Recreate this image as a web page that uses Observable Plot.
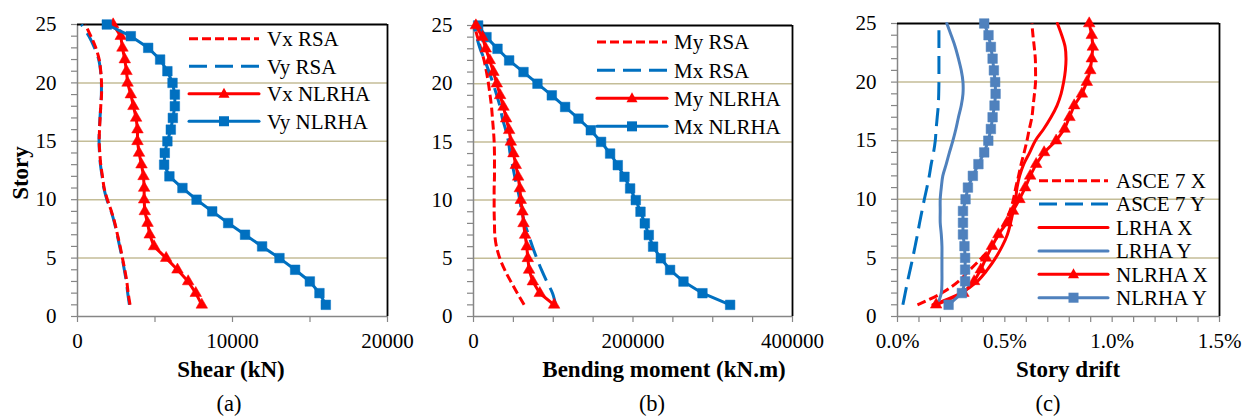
<!DOCTYPE html>
<html>
<head>
<meta charset="utf-8">
<script src="https://cdn.jsdelivr.net/npm/d3@7"></script>
<script src="https://cdn.jsdelivr.net/npm/@observablehq/plot@0.6"></script>
<style>
  html, body { margin: 0; padding: 0; background: #fff; }
  #root { position: relative; width: 1242px; height: 416px; overflow: hidden; font-family: "Liberation Serif", "Times New Roman", serif; color: #000; }
  .panel { position: absolute; top: 0; }
  .panel text { font-family: "Liberation Serif", "Times New Roman", serif !important; font-variant: normal !important; }
  .lbl { position: absolute; transform: translate(-50%, -50%); white-space: nowrap; line-height: 1; font-family: "Liberation Serif", serif; }
  .bold { font-weight: bold; font-size: 23px; }
  .cap { font-size: 22.5px; }
  .legend { position: absolute; font-size: 21px; }
</style>
</head>
<body>
<div id="root"></div>
<script>
// ---------- Data (story 1 .. 25) ----------
const stories = d3.range(1, 26);
const gridStories = [5, 10, 15, 20];
const yTicks = d3.range(0, 26);

// Panel (a): Shear (kN)
const vxRSA   = [3390, 3270, 3180, 3050, 2900, 2750, 2580, 2410, 2190, 1930, 1720, 1610, 1500, 1440, 1400, 1420, 1460, 1500, 1550, 1550, 1500, 1400, 1180, 860, 500];
const vyRSA   = [3350, 3240, 3150, 3020, 2880, 2720, 2560, 2390, 2170, 1900, 1700, 1590, 1480, 1420, 1390, 1410, 1450, 1500, 1540, 1540, 1490, 1370, 1100, 740, 250];
const vxNLRHA = [8020, 7630, 7140, 6450, 5720, 4940, 4660, 4520, 4340, 4300, 4300, 4260, 4130, 3970, 3870, 3870, 3780, 3610, 3440, 3230, 3160, 3050, 2900, 2790, 2300];
const vyNLRHA = [16020, 15610, 14990, 14040, 13030, 11910, 10810, 9720, 8690, 7680, 6770, 5930, 5590, 5630, 5800, 6020, 6150, 6280, 6280, 6130, 5800, 5330, 4560, 3440, 1890];
const shearTicks = [0, 5000, 10000, 15000, 20000];
const shearLabels = [0, 10000, 20000];

// Panel (b): Bending moment (kN.m)
const myRSA   = [63500, 55000, 46800, 39200, 33000, 28800, 26700, 26300, 25900, 25900, 25900, 26300, 26300, 26300, 25900, 25000, 23800, 22600, 20800, 18800, 16300, 13300, 9200, 5000, 1000];
const mxRSA   = [103000, 99100, 91900, 85300, 79400, 74000, 69000, 64300, 60600, 58100, 55200, 51800, 48900, 45900, 43900, 40500, 36300, 33400, 29200, 24600, 19600, 14200, 8300, 4100, 1000];
const myNLRHA = [101100, 83100, 74400, 69700, 68100, 66800, 64700, 62700, 61400, 59300, 58100, 56000, 53000, 50100, 46800, 44700, 40900, 37600, 33400, 29200, 25000, 20400, 15400, 11300, 3000];
const mxNLRHA = [321800, 287100, 263300, 246500, 234900, 225200, 219800, 214800, 209400, 203500, 196400, 189300, 180900, 171300, 160000, 147100, 131600, 114900, 98200, 80200, 62700, 44700, 30100, 16300, 5800];
const momentTicks = [0, 50000, 100000, 150000, 200000, 250000, 300000, 350000, 400000];
const momentLabels = [0, 200000, 400000];

// Panel (c): Story drift (%)
const asceX  = [0.093, 0.206, 0.284, 0.338, 0.392, 0.439, 0.470, 0.501, 0.524, 0.540, 0.551, 0.564, 0.576, 0.590, 0.603, 0.614, 0.626, 0.632, 0.638, 0.643, 0.643, 0.642, 0.637, 0.631, 0.626];
const asceY  = [0.025, 0.036, 0.047, 0.059, 0.071, 0.082, 0.093, 0.103, 0.114, 0.125, 0.137, 0.148, 0.157, 0.168, 0.176, 0.180, 0.185, 0.190, 0.192, 0.193, 0.193, 0.193, 0.193, 0.193, 0.193];
const lrhaX  = [0.165, 0.295, 0.372, 0.419, 0.457, 0.488, 0.512, 0.527, 0.539, 0.550, 0.557, 0.569, 0.588, 0.616, 0.642, 0.681, 0.715, 0.743, 0.762, 0.774, 0.782, 0.785, 0.781, 0.765, 0.745];
const lrhaY  = [0.186, 0.204, 0.207, 0.207, 0.207, 0.207, 0.204, 0.199, 0.199, 0.199, 0.204, 0.211, 0.227, 0.242, 0.258, 0.272, 0.284, 0.297, 0.305, 0.305, 0.297, 0.284, 0.269, 0.250, 0.230];
const nlrhaX = [0.180, 0.307, 0.357, 0.388, 0.413, 0.440, 0.470, 0.510, 0.538, 0.568, 0.595, 0.618, 0.646, 0.683, 0.739, 0.778, 0.801, 0.823, 0.859, 0.882, 0.898, 0.905, 0.910, 0.905, 0.893];
const nlrhaY = [0.238, 0.300, 0.315, 0.315, 0.315, 0.312, 0.305, 0.305, 0.305, 0.317, 0.328, 0.351, 0.377, 0.404, 0.423, 0.435, 0.443, 0.452, 0.457, 0.455, 0.449, 0.443, 0.435, 0.424, 0.404];
const driftTicks = d3.range(0, 16).map(i => i / 10);
const driftLabels = [0, 0.5, 1.0, 1.5];

// ---------- Styles ----------
const RED = "#FF0000", BLUE = "#0070C0", STEEL = "#4F81BD";
const GRID = "#C4BD97", AXIS = "#868686";
const SHORT = "9,4", LONG = "18,8";
const SERIF = "Liberation Serif, Times New Roman, serif";

const root = document.getElementById("root");

function rows(values) { return stories.map((s, i) => ({story: s, v: values[i]})); }

function panel({left, width, mL, mR, mT, xDomain, xTicks, xLabels, fmt, series}) {
  const marks = [
    Plot.ruleY(gridStories, {stroke: GRID, strokeWidth: 1.5}),
    Plot.ruleX([xDomain[0]], {stroke: AXIS, strokeWidth: 1.5}),
    Plot.ruleY([0], {stroke: AXIS, strokeWidth: 1.5}),
    Plot.ruleY([25], {stroke: "#000", strokeWidth: 1.8}),
    Plot.ruleX([xDomain[1]], {stroke: "#000", strokeWidth: 1.8}),
    Plot.axisY({ticks: yTicks, tickSize: 6, tickPadding: 15, stroke: AXIS, strokeWidth: 1.2, fill: "#000",
      tickFormat: d => d % 5 === 0 ? String(d) : "", label: null, fontSize: 21}),
    Plot.axisX({ticks: xTicks, tickSize: 6, tickPadding: 11, stroke: AXIS, strokeWidth: 1.2, fill: "#000",
      tickFormat: d => xLabels.some(l => Math.abs(l - d) < 1e-9) ? fmt(d) : "", label: null, fontSize: 21})
  ];
  for (const s of series) {
    const data = rows(s.values);
    marks.push(Plot.line(data, {x: "v", y: "story", stroke: s.color, strokeWidth: s.width || 3,
      strokeDasharray: s.dash || null, curve: s.curve || "linear", strokeLinecap: s.dash ? "butt" : "round"}));
    if (s.symbol) {
      marks.push(Plot.dot(data, {x: "v", y: "story", symbol: s.symbol, r: s.symbol === "square" ? 5.4 : 4.3,
        fill: s.color, stroke: s.color, strokeWidth: 0.5}));
    }
  }
  const svg = Plot.plot({
    width, height: 360, marginLeft: mL, marginRight: mR, marginTop: mT, marginBottom: 44,
    x: {domain: xDomain, axis: null},
    y: {domain: [0, 25], axis: null},
    style: {fontSize: "21px", color: "#000", background: "transparent", overflow: "visible"},
    marks
  });
  svg.classList.add("panel");
  svg.style.left = left + "px";
  svg.querySelectorAll("text").forEach(t => {
    t.setAttribute("font-family", SERIF);
    t.style.fontFamily = SERIF;
    t.style.fontVariant = "normal";
  });
  root.appendChild(svg);
}

function legend(items, left, top, gap, lineX0, lineX1, textX) {
  const div = document.createElement("div");
  div.className = "legend";
  div.style.left = left + "px";
  div.style.top = top + "px";
  const W = 200, H = gap * items.length + 10;
  let svg = `<svg width="${W}" height="${H}" style="overflow:visible">`;
  items.forEach((it, i) => {
    const y = 5 + gap * i + gap / 2;
    svg += `<line x1="${lineX0}" x2="${lineX1}" y1="${y}" y2="${y}" stroke="${it.color}" stroke-width="${it.width || 3}" ${it.dash ? `stroke-dasharray="${it.dash}"` : 'stroke-linecap="round"'}/>`;
    const mx = (lineX0 + lineX1) / 2;
    if (it.symbol === "triangle") svg += `<path d="M${mx},${y - 6}L${mx + 5.5},${y + 4}L${mx - 5.5},${y + 4}Z" fill="${it.color}"/>`;
    if (it.symbol === "square") svg += `<rect x="${mx - 5}" y="${y - 5}" width="10" height="10" fill="${it.color}"/>`;
    svg += `<text x="${textX}" y="${y}" dy="0.35em" font-family="${SERIF}" font-size="21" fill="#000">${it.label}</text>`;
  });
  svg += `</svg>`;
  div.innerHTML = svg;
  root.appendChild(div);
}

function label(text, x, y, cls, rotate) {
  const d = document.createElement("div");
  d.className = "lbl " + cls;
  d.textContent = text;
  d.style.left = x + "px";
  d.style.top = y + "px";
  if (rotate) d.style.transform = "translate(-50%, -50%) rotate(-90deg)";
  root.appendChild(d);
}

// ---------- Panel (a) ----------
const seriesA = [
  {label: "Vx RSA", values: vxRSA, color: RED, dash: SHORT, curve: "catmull-rom"},
  {label: "Vy RSA", values: vyRSA, color: BLUE, dash: LONG, curve: "catmull-rom"},
  {label: "Vx NLRHA", values: vxNLRHA, color: RED, symbol: "triangle"},
  {label: "Vy NLRHA", values: vyNLRHA, color: BLUE, symbol: "square"}
];
panel({left: 0, width: 420, mL: 77, mR: 33, mT: 24, xDomain: [0, 20000], xTicks: shearTicks, xLabels: shearLabels,
  fmt: d => String(d), series: [seriesA[1], seriesA[0], seriesA[2], seriesA[3]]});

// ---------- Panel (b) ----------
const seriesB = [
  {label: "My RSA", values: myRSA, color: RED, dash: SHORT, curve: "catmull-rom"},
  {label: "Mx RSA", values: mxRSA, color: BLUE, dash: LONG, curve: "catmull-rom"},
  {label: "My NLRHA", values: myNLRHA, color: RED, symbol: "triangle"},
  {label: "Mx NLRHA", values: mxNLRHA, color: BLUE, symbol: "square"}
];
panel({left: 420, width: 410, mL: 53, mR: 38, mT: 25, xDomain: [0, 400000], xTicks: momentTicks, xLabels: momentLabels,
  fmt: d => String(d), series: [seriesB[0], seriesB[1], seriesB[3], seriesB[2]]});

// ---------- Panel (c) ----------
const seriesC = [
  {label: "ASCE 7 X", values: asceX, color: RED, dash: SHORT, curve: "catmull-rom"},
  {label: "ASCE 7 Y", values: asceY, color: BLUE, dash: LONG, curve: "catmull-rom"},
  {label: "LRHA X", values: lrhaX, color: RED, curve: "catmull-rom"},
  {label: "LRHA Y", values: lrhaY, color: STEEL, curve: "catmull-rom"},
  {label: "NLRHA X", values: nlrhaX, color: RED, symbol: "triangle"},
  {label: "NLRHA Y", values: nlrhaY, color: STEEL, symbol: "square"}
];
panel({left: 830, width: 412, mL: 67, mR: 23, mT: 23, xDomain: [0, 1.5], xTicks: driftTicks, xLabels: driftLabels,
  fmt: d => d.toFixed(1) + "%", series: seriesC});

// ---------- Legends ----------
legend(seriesA, 180, 20, 27.5, 9, 79, 87);
legend(seriesB, 588, 23, 28.1, 9, 79, 86);
legend(seriesC, 1030, 164, 23.4, 9, 78, 86);

// ---------- Axis titles & captions ----------
label("Story", 20, 173, "bold", true);
label("Shear (kN)", 231, 369, "bold");
label("Bending moment (kN.m)", 664, 369, "bold");
label("Story drift", 1068, 369, "bold");
label("(a)", 229, 404, "cap");
label("(b)", 652, 404, "cap");
label("(c)", 1048, 404, "cap");
</script>
</body>
</html>
